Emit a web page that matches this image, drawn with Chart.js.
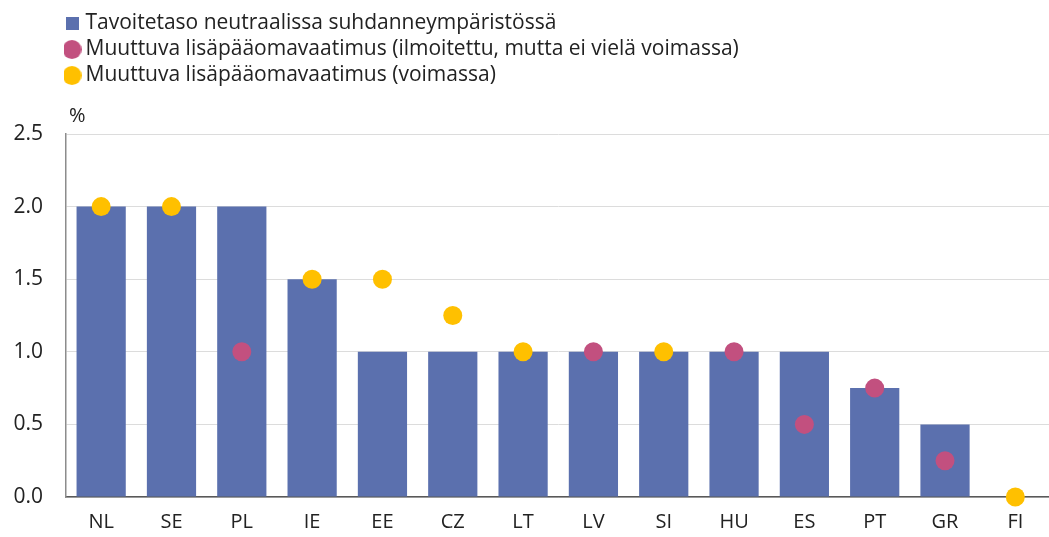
<!DOCTYPE html>
<html>
<head>
<meta charset="utf-8">
<script src="https://cdn.jsdelivr.net/npm/chart.js@4/dist/chart.umd.min.js"></script>
<style>
    html, body { margin: 0; padding: 0; background: #fff; overflow: hidden; }
    #wrap { position: relative; width: 1060px; height: 537px; }
</style>
</head>
<body>
<div id="wrap"><canvas id="chart"></canvas></div>
<script>
const countries = ['NL', 'SE', 'PL', 'IE', 'EE', 'CZ', 'LT', 'LV', 'SI', 'HU', 'ES', 'PT', 'GR', 'FI'];
const targetLevel = [2, 2, 2, 1.5, 1, 1, 1, 1, 1, 1, 1, 0.75, 0.5, 0];
const announcedBuffer = [null, null, 1, null, null, null, null, 1, null, 1, 0.5, 0.75, 0.25, null];
const activeBuffer = [2, 2, null, 1.5, 1.5, 1.25, 1, null, 1, null, null, null, null, 0];
const yTicks = [0, 0.5, 1, 1.5, 2, 2.5];

const seriesNames = [
    'Tavoitetaso neutraalissa suhdanneympäristössä',
    'Muuttuva lisäpääomavaatimus (ilmoitettu, mutta ei vielä voimassa)',
    'Muuttuva lisäpääomavaatimus (voimassa)'
];

const colors = {
    bar: '#5b70ae',
    announced: '#c2507f',
    active: '#ffc000',
    text: '#222222',
    grid: '#dcdcdc'
};

const fontFamily = "'Open Sans', sans-serif";

// small canvases used as legend markers (square for bars, dots for points)
function makeMarker(shape, size, color) {
    const c = document.createElement('canvas');
    c.width = size;
    c.height = size;
    const g = c.getContext('2d');
    g.fillStyle = color;
    if (shape === 'square') {
        g.fillRect(0, 0, size, size);
    } else {
        g.beginPath();
        g.arc(size / 2, size / 2, size / 2, 0, Math.PI * 2);
        g.fill();
    }
    return c;
}

const legendMarkers = [
    makeMarker('square', 13, colors.bar),
    makeMarker('circle', 19, colors.announced),
    makeMarker('circle', 19, colors.active)
];

// one legend entry per row, plus room under the legend for the "%" label
const legendLayout = {
    id: 'legendLayout',
    beforeInit(chart) {
        const fit = chart.legend.fit;
        chart.legend.fit = function () {
            this.maxWidth = 400;
            fit.bind(chart.legend)();
            this.height += 38;
        };
    },
    afterLayout(chart) {
        chart.legend.left = 64;
    }
};

const unitLabel = {
    id: 'unitLabel',
    afterDraw(chart) {
        const { ctx, chartArea } = chart;
        ctx.save();
        ctx.font = `20px ${fontFamily}`;
        ctx.fillStyle = colors.text;
        ctx.textAlign = 'left';
        ctx.textBaseline = 'bottom';
        ctx.fillText('%', chartArea.left + 3, chartArea.top - 8);
        ctx.restore();
    }
};

const ctx = document.getElementById('chart').getContext('2d');

new Chart(ctx, {
    type: 'bar',
    data: {
        labels: countries,
        datasets: [
            {
                label: seriesNames[0],
                data: targetLevel,
                backgroundColor: colors.bar,
                categoryPercentage: 1,
                barPercentage: 0.7,
                order: 3
            },
            {
                type: 'line',
                label: seriesNames[1],
                data: announcedBuffer,
                showLine: false,
                pointRadius: 9.5,
                pointBorderWidth: 0,
                backgroundColor: colors.announced,
                borderColor: colors.announced,
                order: 2
            },
            {
                type: 'line',
                label: seriesNames[2],
                data: activeBuffer,
                showLine: false,
                pointRadius: 9.5,
                pointBorderWidth: 0,
                backgroundColor: colors.active,
                borderColor: colors.active,
                clip: false,
                order: 1
            }
        ]
    },
    options: {
        responsive: true,
        maintainAspectRatio: false,
        animation: false,
        layout: { padding: { top: 8, left: 0, right: 2, bottom: 0 } },
        plugins: {
            legend: {
                position: 'top',
                align: 'start',
                labels: {
                    usePointStyle: true,
                    pointStyleWidth: 6,
                    boxHeight: 13,
                    padding: 5,
                    color: colors.text,
                    font: { family: fontFamily, size: 21 },
                    sort: (a, b) => a.datasetIndex - b.datasetIndex,
                    generateLabels: (chart) => {
                        const items = Chart.defaults.plugins.legend.labels.generateLabels(chart);
                        items.forEach(item => {
                            item.pointStyle = legendMarkers[item.datasetIndex];
                        });
                        return items;
                    }
                }
            },
            tooltip: { enabled: false }
        },
        scales: {
            x: {
                afterFit: (scale) => {
                    scale.height = 40;
                    scale.paddingLeft = 0;
                    scale.paddingRight = 0;
                },
                grid: { display: false, drawTicks: false },
                border: { display: true, color: '#595959', width: 1.5 },
                ticks: {
                    color: colors.text,
                    padding: 13,
                    font: { family: fontFamily, size: 20 }
                }
            },
            y: {
                min: 0,
                max: 2.5,
                afterBuildTicks: (scale) => {
                    scale.ticks = yTicks.map(v => ({ value: v }));
                },
                afterFit: (scale) => {
                    scale.width = 66;
                    scale.paddingTop = 0;
                    scale.paddingBottom = 0;
                },
                grid: { color: colors.grid, drawTicks: false },
                border: { display: true, color: '#8c8c8c', width: 1.5 },
                ticks: {
                    color: colors.text,
                    padding: 23,
                    font: { family: fontFamily, size: 21 },
                    callback: (v) => Number(v).toFixed(1)
                }
            }
        }
    },
    plugins: [legendLayout, unitLabel]
});
</script>
</body>
</html>
